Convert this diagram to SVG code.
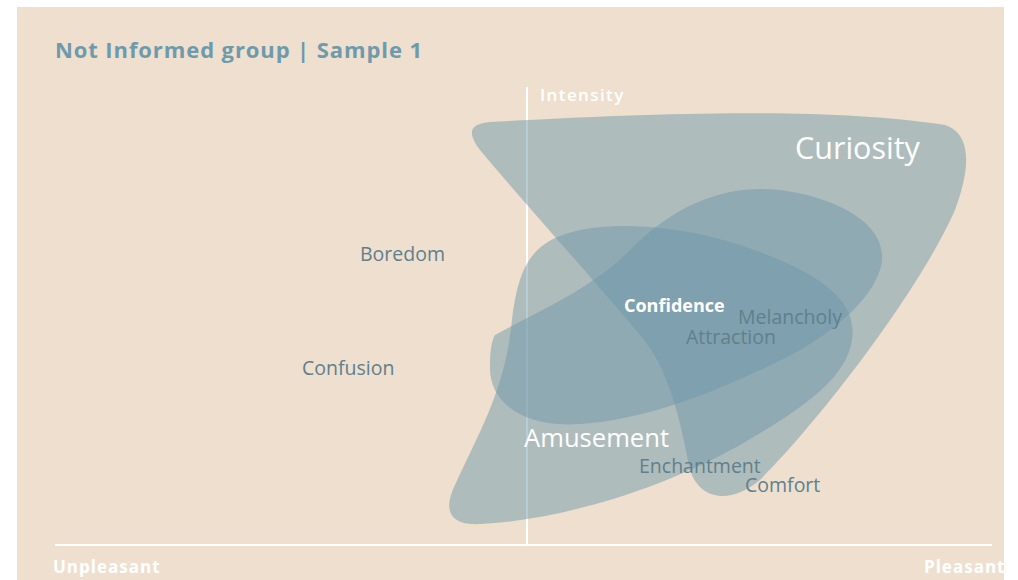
<svg xmlns="http://www.w3.org/2000/svg" width="1018" height="580" viewBox="0 0 1018 580">
<style>
.blob{fill:#6e96aa;fill-opacity:0.49}
.axis{stroke:#ffffff;stroke-width:2;fill:none}
.t{font-family:"Open Sans","Noto Sans","Liberation Sans",sans-serif}
.w{fill:#ffffff}
.g{fill:#5f808d;font-size:19.5px}
</style>
<rect x="0" y="0" width="1018" height="580" fill="#ffffff"/>
<rect x="17" y="7" width="987" height="573" fill="#eedfcf"/>
<text class="t" x="55" y="58" font-size="22" font-weight="700" letter-spacing="0.9" fill="#6e9aab">Not Informed group | Sample 1</text>
<g id="axes">
<line class="axis" x1="55" y1="545" x2="992" y2="545"/>
<line class="axis" x1="527" y1="87" x2="527" y2="545"/>
<text class="t w" x="540" y="101" font-size="17" font-weight="600" letter-spacing="1.4">Intensity</text>
<text class="t w" x="53" y="573" font-size="17" font-weight="700" letter-spacing="1">Unpleasant</text>
<text class="t w" x="924" y="573" font-size="17" font-weight="700" letter-spacing="1">Pleasant</text>
</g>
<g id="curiosity">
<path class="blob" d="M490,122 C620,115 820,105 945,125 C975,135 968,175 955,210 C920,290 820,420 760,480 C730,505 700,500 690,470 C680,420 670,370 640,335 C590,275 530,210 480,150 C465,130 472,124 490,122 Z"/>
</g>
<g id="confidence">
<path class="blob" d="M495,335 C540,310 590,290 630,250 C680,200 730,185 780,190 C840,198 885,225 882,260 C878,300 820,345 760,370 C700,398 640,420 580,424 C520,428 488,400 490,365 C490,350 492,340 495,335 Z"/>
</g>
<g id="amusement">
<path class="blob" d="M560,236 C600,220 680,222 760,252 C820,275 858,300 852,340 C846,380 800,410 740,445 C660,490 560,520 480,524 C445,526 445,505 455,485 C480,430 505,390 512,320 C518,270 530,248 560,236 Z"/>
</g>
<g id="curiosity-label"><text class="t w" x="795" y="159" font-size="30.5">Curiosity</text></g>
<g id="confidence-label"><text class="t w" x="624" y="312" font-size="18" font-weight="700">Confidence</text></g>
<g id="amusement-label"><text class="t w" x="524" y="447" font-size="25.6">Amusement</text></g>
<g id="boredom"><text class="t g" x="360" y="261">Boredom</text></g>
<g id="confusion"><text class="t g" x="302" y="375">Confusion</text></g>
<g id="melancholy"><text class="t g" x="738" y="324">Melancholy</text></g>
<g id="attraction"><text class="t g" x="686" y="344">Attraction</text></g>
<g id="enchantment"><text class="t g" x="639" y="473">Enchantment</text></g>
<g id="comfort"><text class="t g" x="745" y="492">Comfort</text></g>
</svg>
